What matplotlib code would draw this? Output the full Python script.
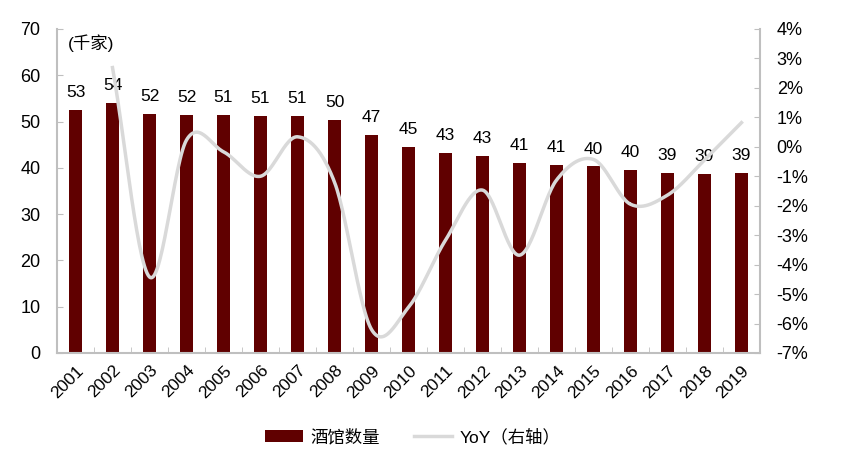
import numpy as np
import matplotlib
matplotlib.use("Agg")
import matplotlib.pyplot as plt
from matplotlib.ticker import FuncFormatter

plt.rcParams["font.family"] = ["Liberation Sans", "Noto Sans CJK SC", "DejaVu Sans"]

years = [str(y) for y in range(2001, 2020)]
pubs = [52.6, 54.0, 51.6, 51.5, 51.4, 51.2, 51.2, 50.4, 47.2, 44.6,
        43.3, 42.6, 41.0, 40.7, 40.3, 39.6, 38.9, 38.7, 38.9]
yoy = [np.nan, 2.69, -4.42, 0.23, -0.17, -1.0, 0.34, -1.2, -6.2, -5.45,
       -3.17, -1.47, -3.68, -1.13, -0.43, -1.95, -1.64, -0.45, 0.82]

BAR = "#600000"
LINE = "#D9D9D9"
SPINE = "#BFBFBF"


def smooth(xs, ys, n=30):
    # catmull-rom curve through the points, close to excel's smoothed line
    xs = np.asarray(xs, float)
    ys = np.asarray(ys, float)
    px = np.concatenate([[2 * xs[0] - xs[1]], xs, [2 * xs[-1] - xs[-2]]])
    py = np.concatenate([[2 * ys[0] - ys[1]], ys, [2 * ys[-1] - ys[-2]]])
    outx, outy = [], []
    t = np.linspace(0, 1, n)
    for i in range(1, len(px) - 2):
        for p, out in ((px, outx), (py, outy)):
            p0, p1, p2, p3 = p[i - 1], p[i], p[i + 1], p[i + 2]
            out.extend(0.5 * ((2 * p1) + (-p0 + p2) * t
                              + (2 * p0 - 5 * p1 + 4 * p2 - p3) * t ** 2
                              + (-p0 + 3 * p1 - 3 * p2 + p3) * t ** 3))
    return np.array(outx), np.array(outy)


fig = plt.figure(figsize=(8.42, 4.55), dpi=100)
ax = fig.add_axes([0.0677, 0.2242, 0.8349, 0.7121])
x = np.arange(len(years))
bars = ax.bar(x, pubs, width=0.37, color=BAR, label="酒馆数量", zorder=2)
for xi, v in zip(x, pubs):
    ax.annotate(f"{v:.0f}", (xi, v), xytext=(0, 7), textcoords="offset points",
                ha="center", va="bottom", fontsize=12.5)

ax.set_xlim(-0.5, len(years) - 0.5)
ax.set_ylim(0, 70)
ax.set_yticks(range(0, 71, 10))
ax.set_xticks(x)
ax.set_xticklabels(years, rotation=45, ha="right", rotation_mode="anchor", fontsize=12.5)
ax.set_xticks(np.arange(-0.5, len(years), 1), minor=True)
ax.tick_params(axis="x", which="major", length=0, pad=7)
ax.tick_params(axis="x", which="minor", length=4, direction="in", color=SPINE)
ax.tick_params(axis="y", length=4, direction="in", color=SPINE, labelsize=13, pad=12)
for s in ["top", "right"]:
    ax.spines[s].set_visible(False)
for s in ["left", "bottom"]:
    ax.spines[s].set_color(SPINE)
    ax.spines[s].set_linewidth(1.5)
ax.text(0.015, 0.985, "(千家)", transform=ax.transAxes, ha="left", va="top", fontsize=12.5)

ax2 = ax.twinx()
sx, sy = smooth(x[1:], yoy[1:])
ax2.plot(sx, sy, color=LINE, lw=2.5, label="YoY（右轴）", zorder=3)
ax2.set_ylim(-7, 4)
ax2.set_yticks(range(-7, 5))
ax2.yaxis.set_major_formatter(FuncFormatter(lambda v, p: f"{v:.0f}%"))
ax2.tick_params(axis="y", length=4, direction="in", color=SPINE, labelsize=13, pad=12)
for s in ["top", "left", "bottom"]:
    ax2.spines[s].set_visible(False)
ax2.spines["right"].set_color(SPINE)
ax2.spines["right"].set_linewidth(1.5)

h1, l1 = ax.get_legend_handles_labels()
h2, l2 = ax2.get_legend_handles_labels()
fig.legend(h1 + h2, l1 + l2, loc="center", bbox_to_anchor=(0.49, 0.04), ncol=2,
           frameon=False, fontsize=12.5, handlelength=2.2, columnspacing=2.0,
           handletextpad=0.4)

fig.savefig("out.png", dpi=100)
